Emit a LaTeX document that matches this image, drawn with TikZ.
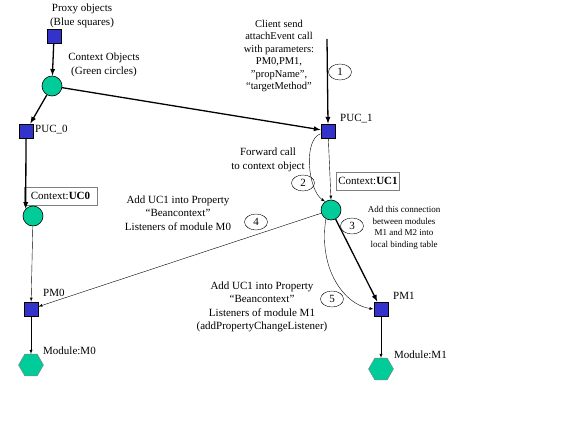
\documentclass[tikz,border=0pt]{standalone}
\usepackage{fontspec}
\setmainfont{Liberation Serif}
\usepackage{tikz}
\usetikzlibrary{positioning}
\usetikzlibrary{shapes.geometric}

\definecolor{proxyblue}{RGB}{51,51,204}
\definecolor{ctxgreen}{RGB}{0,204,153}

\tikzset{
  proxy/.style={shape=rectangle, draw, fill=proxyblue, line width=0.9pt, minimum size=14pt, inner sep=0pt},
  ctxobj/.style={shape=circle, draw, fill=ctxgreen, line width=0.6pt, minimum size=20pt, inner sep=0pt},
  module/.style={shape=regular polygon, regular polygon sides=6, draw=gray, fill=ctxgreen, minimum size=25pt, inner sep=0pt},
  stepnum/.style={shape=ellipse, draw, line width=0.4pt, minimum width=23pt, minimum height=16pt, inner sep=0pt},
  ctxbox/.style={shape=rectangle, draw=gray, line width=0.4pt, inner sep=2pt, minimum height=18pt},
  txt/.style={align=center, inner sep=0pt},
  call/.style={->, line width=1.3pt},
  link/.style={->, line width=0.4pt}
}

\begin{document}
\begin{tikzpicture}[x=1pt, y=1pt, >=latex, font=\fontsize{11}{13.5}\selectfont]
      \useasboundingbox (0,0) rectangle (575,-431);

      \node[proxy] (proxy) at (54,-36) {};
      \node[ctxobj] (ctx) at (52,-86) {};
      \node[proxy] (puc0) at (26,-131) {};
      \node[proxy] (puc1) at (328,-131) {};
      \node[ctxbox, minimum width=73pt] (uc0box) at (60.5,-196) {Context:\textbf{UC0}};
      \node[ctxbox, minimum width=62pt] (uc1box) at (368,-181) {Context:\textbf{UC1}};
      \node[ctxobj] (uc0) at (33,-216) {};
      \node[ctxobj] (uc1) at (331,-210) {};
      \node[proxy] (pm0) at (31,-309) {};
      \node[proxy] (pm1) at (381,-309) {};
      \node[module] (m0) at (31,-365) {};
      \node[module] (m1) at (381,-369) {};
      \coordinate (client) at (327,-39);

      \node[txt] (proxylbl) at (82,-16) {Proxy objects\\(Blue squares)};
      \node[txt] (ctxlbl) at (104,-65) {Context Objects\\(Green circles)};
      \node[txt, anchor=west] (puc0lbl) at (35,-130) {PUC\_0};
      \node[txt, anchor=west] (puc1lbl) at (340,-119) {PUC\_1};
      \node[txt, anchor=west] (pm0lbl) at (43,-293) {PM0};
      \node[txt, anchor=west] (pm1lbl) at (393,-296) {PM1};
      \node[txt, anchor=west] (m0lbl) at (43,-351) {Module:M0};
      \node[txt, anchor=west] (m1lbl) at (394,-355) {Module:M1};
      \node[txt, font=\fontsize{10.5}{12.4}\selectfont] (clientlbl) at (279,-56) {Client send\\attachEvent call\\with parameters:\\PM0,PM1,\\"propName",\\``targetMethod"};
      \node[txt] (fwdlbl) at (268,-160) {Forward call\\to context object};
      \node[txt] (addm0lbl) at (178,-213) {Add UC1 into Property\\``Beancontext"\\Listeners of module M0};
      \node[txt, font=\fontsize{9}{11.5}\selectfont] (bindlbl) at (404,-228) {Add this connection\\between modules\\M1 and M2 into\\local binding table};
      \node[txt] (addm1lbl) at (262,-307) {Add UC1 into Property\\``Beancontext"\\Listeners of module M1\\(addPropertyChangeListener)};

      \node[stepnum] (s1) at (340,-72) {1};
      \node[stepnum] (s2) at (303,-183) {2};
      \node[stepnum] (s3) at (352,-226) {3};
      \node[stepnum] (s4) at (256,-222) {4};
      \node[stepnum] (s5) at (332,-299) {5};

      \draw[call] (proxy) -- (ctx);
      \draw[call] (ctx) -- (puc0);
      \draw[call] (ctx) -- (puc1);
      \draw[call] (client) -- (puc1.north);
      \draw[call] (puc0.south) -- (uc0.north west);
      \draw[link] (uc0) -- (pm0);
      \draw[link] (puc1) -- (uc1.north);
      \draw[link] (puc1.200) .. controls (303,-140) and (308,-190) .. (uc1.125);
      \draw[link] (uc1) -- (pm0);
      \draw[call] (uc1) -- (pm1);
      \draw[link] (uc1.240) .. controls (318,-270) and (345,-305) .. (pm1.west);
      \draw[link] (pm0) -- (m0);
      \draw[link] (pm1) -- (m1);
\end{tikzpicture}
\end{document}
